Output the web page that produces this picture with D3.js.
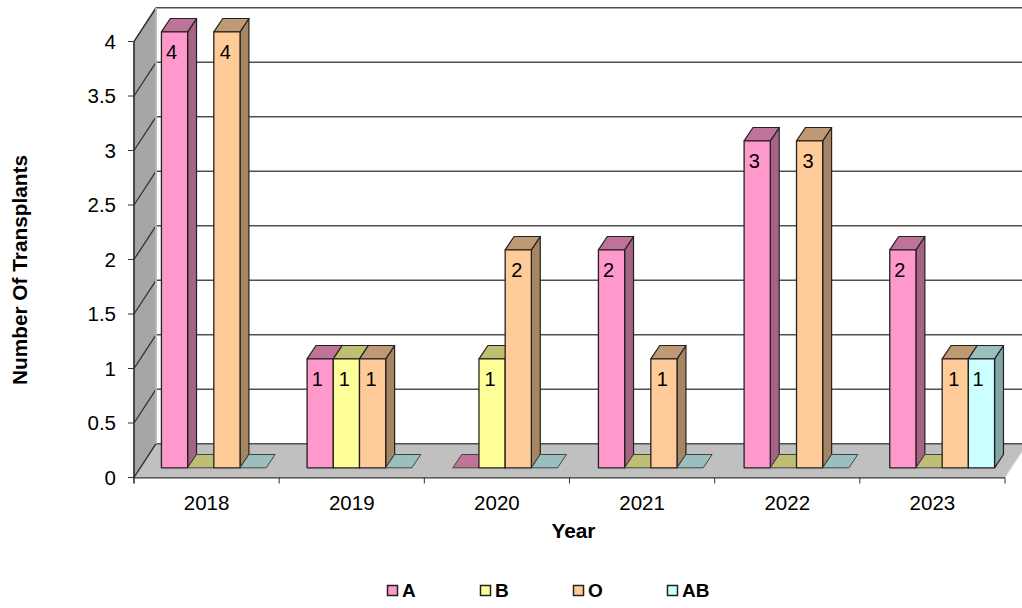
<!DOCTYPE html>
<html><head><meta charset="utf-8">
<script src="https://cdn.jsdelivr.net/npm/d3@7"></script>
<style>html,body{margin:0;padding:0;background:#fff}svg{display:block}text{font-family:"Liberation Sans",Arial,sans-serif;fill:#000}</style>
</head><body><svg id="c" width="1022" height="608"></svg>
<script>
const years = ["2018","2019","2020","2021","2022","2023"];
const seriesNames = ["A","B","O","AB"];
const valuesA = [4,1,0,2,3,2];
const valuesB = [0,1,1,0,0,0];
const valuesO = [4,1,2,1,3,1];
const valuesAB = [0,0,0,0,0,1];
const colors = ["#ff99cc","#ffff99","#ffcc99","#ccffff"];
const yTicks = [0,0.5,1,1.5,2,2.5,3,3.5,4];

const allValues = [valuesA,valuesB,valuesO,valuesAB];
const svg = d3.select("#c");
const W = {dx:22, dy:-33.7};            // wall/floor depth
const P = {dx:7, dy:-9.7};              // bar plane offset
const D = {dx:8.9, dy:-13.3};           // bar depth
const x = d3.scaleBand().domain(years).range([134,1005]);
const xBar = d3.scaleBand().domain(years).range([141,1015]);
const y = d3.scaleLinear().domain([0,4]).range([477.5,41.5]);
const barW = 26.2;
const inner = d3.scaleBand().domain(seriesNames).range([-2*barW,2*barW]);
const labelShift = d3.scaleOrdinal().domain(seriesNames).range([-3,-2,-1.5,-3.5]);
const dark = (c,k)=>{const r=d3.rgb(c);return d3.rgb(r.r*k,r.g*k,r.b*k).formatHex();};
const poly = (g,pts,fill,stroke,sw)=>g.append("polygon").attr("points",pts.map(p=>p.join(",")).join(" ")).attr("fill",fill).attr("stroke",stroke).attr("stroke-width",sw).attr("stroke-linejoin","round");

const gW = svg.append("g");
const L=x.range()[0], R=x.range()[1], y0=y(0), yT=y(4);
// back wall
poly(gW,[[L+W.dx,yT+W.dy],[R+W.dx,yT+W.dy],[R+W.dx,y0+W.dy],[L+W.dx,y0+W.dy]],"#fff","none",0);
// left wall
poly(gW,[[L,y0],[L,yT],[L+W.dx,yT+W.dy],[L+W.dx,y0+W.dy]],"#a6a6a6","#404040",1.3);
// floor
poly(gW,[[L,y0],[R,y0],[R+W.dx,y0+W.dy],[L+W.dx,y0+W.dy]],"#c0c0c0","none",0);
// gridlines
yTicks.forEach(t=>{
  gW.append("line").attr("x1",L+W.dx).attr("x2",R+W.dx).attr("y1",y(t)+W.dy).attr("y2",y(t)+W.dy).attr("stroke","#505050").attr("stroke-width",1.5);
  if(t>0) gW.append("line").attr("x1",L).attr("x2",L+W.dx).attr("y1",y(t)).attr("y2",y(t)+W.dy).attr("stroke","#333").attr("stroke-width",1.3);
});
gW.append("line").attr("x1",L+W.dx).attr("x2",L+W.dx).attr("y1",yT+W.dy).attr("y2",y0+W.dy).attr("stroke","#d0d0d0").attr("stroke-width",1.5);
gW.append("line").attr("x1",L).attr("x2",L+W.dx).attr("y1",y0).attr("y2",y0+W.dy).attr("stroke","#333").attr("stroke-width",1.3);
gW.append("line").attr("x1",R).attr("x2",R+W.dx).attr("y1",y0).attr("y2",y0+W.dy).attr("stroke","#d9d9d9").attr("stroke-width",1);

// axes
const gx = svg.append("g").attr("transform",`translate(0,${y0})`);
gx.append("line").attr("x1",L).attr("x2",R).attr("y1",0.3).attr("y2",0.3).attr("stroke","#333").attr("stroke-width",1.3);
[...years.map(d=>x(d)),R].forEach(v=>gx.append("line").attr("x1",v).attr("x2",v).attr("y1",0).attr("y2",6).attr("stroke","#333"));
years.forEach(d=>gx.append("text").attr("x",x(d)+x.bandwidth()/2).attr("y",32).attr("text-anchor","middle").attr("font-size",20.5).text(d));
const ya = svg.append("g");
ya.append("line").attr("x1",L).attr("x2",L).attr("y1",yT).attr("y2",y0+6).attr("stroke","#333").attr("stroke-width",1.3);
yTicks.forEach(t=>{
  ya.append("line").attr("x1",L-6).attr("x2",L).attr("y1",y(t)).attr("y2",y(t)).attr("stroke","#333");
  ya.append("text").attr("x",L-18).attr("y",y(t)+7).attr("text-anchor","end").attr("font-size",20.5).text(t);
});

// bars
const gB = svg.append("g");
const labels=[];
years.forEach((yr,i)=>{
  const cx = xBar(yr)+xBar.bandwidth()/2;
  seriesNames.forEach((s,k)=>{
    const v = allValues[k][i], c = colors[k];
    const xl = cx+inner(s), xr = xl+barW, yb = y(0)+P.dy, yt = y(v)+P.dy;
    const st="#222";
    if(v===0){
      poly(gB,[[xl,yb],[xr,yb],[xr+D.dx,yb+D.dy],[xl+D.dx,yb+D.dy]],dark(c,0.75),"#444",1);
    } else {
      poly(gB,[[xr,yb],[xr,yt],[xr+D.dx,yt+D.dy],[xr+D.dx,yb+D.dy]],dark(c,0.65),st,1.2);
      poly(gB,[[xl,yt],[xr,yt],[xr+D.dx,yt+D.dy],[xl+D.dx,yt+D.dy]],dark(c,0.75),st,1.2);
      poly(gB,[[xl,yb],[xr,yb],[xr,yt],[xl,yt]],c,st,1.3);
      labels.push({x:xl+barW/2+labelShift(s),y:yt+27.5,v});
    }
  });
});
labels.forEach(l=>svg.append("text").attr("x",l.x).attr("y",l.y).attr("text-anchor","middle").attr("font-size",20).text(l.v));

// titles
svg.append("text").attr("x",573.5).attr("y",538).attr("text-anchor","middle").attr("font-size",20.8).attr("font-weight","bold").text("Year");
svg.append("text").attr("transform","translate(27,270) rotate(-90)").attr("text-anchor","middle").attr("font-size",20.8).attr("font-weight","bold").text("Number Of Transplants");

// legend
const lx = d3.scaleOrdinal().domain(seriesNames).range([387.5,480.5,573.5,667.5]);
seriesNames.forEach((s,k)=>{
  svg.append("rect").attr("x",lx(s)).attr("y",585.5).attr("width",10).attr("height",10).attr("fill",colors[k]).attr("stroke","#222").attr("stroke-width",1.5);
  svg.append("text").attr("x",lx(s)+14.5).attr("y",596.7).attr("font-size",19).attr("font-weight","bold").text(s);
});
</script></body></html>
